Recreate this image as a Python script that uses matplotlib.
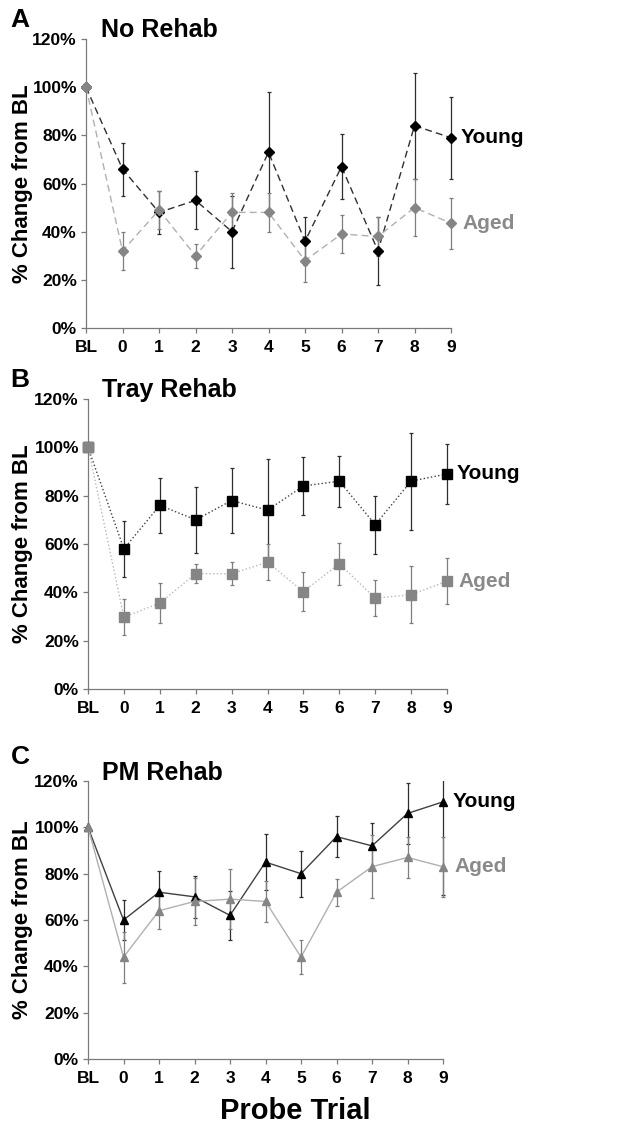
import numpy as np
import matplotlib as mpl
mpl.use('Agg')
import matplotlib.pyplot as plt
from matplotlib.transforms import Bbox, TransformedBbox

# Probe trial categories
trials = ['BL', '0', '1', '2', '3', '4', '5', '6', '7', '8', '9']

# Panel A - No Rehab
no_young = [100, 66, 48, 53, 40, 73, 36, 67, 32, 84, 79]
no_young_err = [0, 11, 9, 12, 15, 25, 10, 13.5, 14, 22, 17]
no_aged = [100, 32, 49, 30, 48, 48, 28, 39, 38, 50, 43.5]
no_aged_err = [0, 8, 8, 5, 8, 8, 9, 8, 8, 12, 10.5]

# Panel B - Tray Rehab
tray_young = [100, 58, 76, 70, 78, 74, 84, 86, 68, 86, 89]
tray_young_err = [0, 11.5, 11.3, 13.6, 13.4, 21, 12, 10.6, 12, 20, 12.5]
tray_aged = [100, 29.7, 35.6, 47.7, 47.7, 52.5, 40.3, 51.8, 37.6, 39, 44.6]
tray_aged_err = [0, 7.5, 8.3, 4, 4.8, 7.5, 8, 8.7, 7.5, 11.7, 9.6]

# Panel C - PM Rehab
pm_young = [100, 60, 72, 70, 62, 85, 80, 96, 92, 106, 111]
pm_young_err = [0, 8.5, 9, 9, 10.5, 12, 10, 8.8, 10, 13, 40]
pm_aged = [100, 44, 64, 68, 69, 68, 44, 72, 83, 87, 83]
pm_aged_err = [0, 11, 8, 10, 13, 9, 7.4, 5.8, 13.5, 9, 13]

yticks = [0, 20, 40, 60, 80, 100, 120]

FONT = 'Liberation Sans'
W, H = 633, 1134


def clip_errorbars(container, ax):
    # clip only in y, so the bars sitting on the x limits are not cut in half
    box = TransformedBbox(Bbox([[-0.05, 0.0], [1.05, 1.0]]), ax.transAxes)
    for art in container.get_children():
        art.set_clip_box(box)


def draw_panel(rect_px, letter, letter_y, title, young, young_err, aged, aged_err,
               marker, ms, linestyle, young_line, aged_line):
    left, right, bottom, top = rect_px
    ax = fig.add_axes([left / W, 1 - bottom / H, (right - left) / W, (bottom - top) / H])
    x = np.arange(len(trials))

    eb = ax.errorbar(x, young, yerr=young_err, fmt='none', ecolor='#2e2e2e',
                     elinewidth=0.9, capsize=1.6, capthick=0.9)
    clip_errorbars(eb, ax)
    eb = ax.errorbar(x, aged, yerr=aged_err, fmt='none', ecolor='#7e7e7e',
                     elinewidth=0.9, capsize=1.6, capthick=0.9)
    clip_errorbars(eb, ax)
    ax.plot(x, young, linestyle=linestyle, color=young_line, lw=1.0,
            marker=marker, ms=ms, mfc='black', mec='black', clip_on=False, zorder=3)
    ax.plot(x, aged, linestyle=linestyle, color=aged_line, lw=1.0,
            marker=marker, ms=ms, mfc='#858585', mec='#858585', clip_on=False, zorder=4)

    ax.set_xlim(0, len(trials) - 1)
    ax.set_ylim(0, 120)
    ax.set_xticks(x)
    ax.set_xticklabels(trials)
    ax.set_yticks(yticks)
    ax.set_yticklabels(['%d%%' % v for v in yticks])

    for side in ['top', 'right']:
        ax.spines[side].set_visible(False)
    for side in ['left', 'bottom']:
        ax.spines[side].set_color('#7a7a7a')
        ax.spines[side].set_linewidth(0.9)
    ax.tick_params(axis='both', direction='out', length=3.5, width=0.9, color='#7a7a7a')
    ax.tick_params(axis='x', pad=5)
    ax.tick_params(axis='y', pad=3)
    for lab in ax.get_xticklabels() + ax.get_yticklabels():
        lab.set_family(FONT)
        lab.set_fontweight('bold')
        lab.set_fontsize(12.5)

    ax.set_ylabel('% Change from BL', fontsize=16, fontweight='bold', family=FONT)
    ax.yaxis.label.set_va('center')
    ax.yaxis.set_label_coords((23 - left) / (right - left), 0.5)

    ax.text(0.04, 1.03, title, transform=ax.transAxes, fontsize=18, fontweight='bold',
            family=FONT, va='center', ha='left')
    fig.text(20 / W, 1 - letter_y / H, letter, fontsize=19, fontweight='bold',
             family=FONT, va='center', ha='center')

    ax.annotate('Young', xy=(x[-1], young[-1]), xytext=(7, 0), textcoords='offset points',
                fontsize=15, fontweight='bold', family=FONT, va='center', color='black',
                annotation_clip=False)
    ax.annotate('Aged', xy=(x[-1], aged[-1]), xytext=(8, 0), textcoords='offset points',
                fontsize=15, fontweight='bold', family=FONT, va='center', color='#8a8a8a',
                annotation_clip=False)
    return ax


fig = plt.figure(figsize=(W / 100, H / 100), dpi=100)

draw_panel((86, 451, 328, 39), 'A', 20, 'No Rehab', no_young, no_young_err,
           no_aged, no_aged_err, 'D', 5.5, (0, (5, 3)), '#303030', '#b0b0b0')
draw_panel((88, 447, 689, 399), 'B', 380, 'Tray Rehab', tray_young, tray_young_err,
           tray_aged, tray_aged_err, 's', 7, ':', '#404040', '#b8b8b8')
draw_panel((88, 443, 1059, 781), 'C', 757, 'PM Rehab', pm_young, pm_young_err,
           pm_aged, pm_aged_err, '^', 6, '-', '#404040', '#b0b0b0')

fig.text(295 / W, 1 - 1111 / H, 'Probe Trial', fontsize=21, fontweight='bold',
         family=FONT, ha='center', va='center')

fig.savefig('out.png', dpi=100)
plt.close(fig)
